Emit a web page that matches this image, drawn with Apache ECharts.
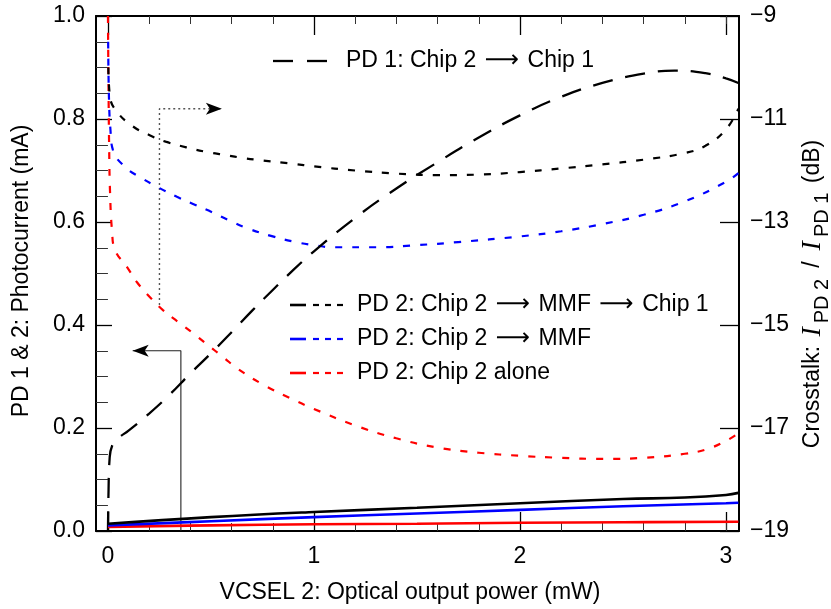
<!DOCTYPE html>
<html><head><meta charset="utf-8">
<script src="https://cdn.jsdelivr.net/npm/echarts@6/dist/echarts.min.js"></script>
<style>html,body{margin:0;padding:0;background:#fff}#c{width:831px;height:609px}</style>
</head><body><div id="c"></div>
<script>
// ---------- axis ticks ----------
const xMajorTicks = [0, 1, 2, 3];
const xMinorTicks = [0.2, 0.4, 0.6, 0.8, 1.2, 1.4, 1.6, 1.8, 2.2, 2.4, 2.6, 2.8, 3.0];
const rightMajorTicks = [-19, -17, -15, -13, -11, -9];
const rightMinorTicks = [-18.5,-18,-17.5,-16.5,-16,-15.5,-14.5,-14,-13.5,-12.5,-12,-11.5,-10.5,-10,-9.5];

// ---------- photocurrent (mA), left axis ----------
const pd1Chip2ToChip1 = [[0,0],[0.003,0.08],[0.008,0.14],[0.02,0.165],[0.05,0.18],[0.1,0.195],[0.2,0.228],[0.3,0.265],[0.4,0.306],[0.5,0.345],[0.6,0.386],[0.7,0.428],[0.8,0.468],[0.9,0.507],[1.0,0.543],[1.2,0.608],[1.4,0.665],[1.6,0.716],[1.8,0.764],[2.0,0.807],[2.2,0.843],[2.4,0.870],[2.6,0.888],[2.75,0.894],[2.9,0.889],[3.0,0.879],[3.06,0.87]];
const pd2MmfChip1 = [[0,0.014],[0.5,0.027],[1.0,0.037],[1.5,0.045],[2.0,0.054],[2.5,0.062],[2.8,0.065],[3.0,0.07],[3.06,0.074]];
const pd2Mmf = [[0,0.011],[0.5,0.019],[1.0,0.027],[1.5,0.034],[2.0,0.041],[2.5,0.048],[3.0,0.054],[3.06,0.055]];
const pd2Alone = [[0,0.008],[0.5,0.011],[1.0,0.013],[1.5,0.014],[2.0,0.016],[2.5,0.017],[3.06,0.018]];

// ---------- crosstalk (dB), right axis ----------
const xtMmfChip1 = [[0.002,-10.0],[0.01,-10.57],[0.044,-10.86],[0.12,-11.14],[0.2,-11.31],[0.28,-11.44],[0.38,-11.55],[0.48,-11.64],[0.57,-11.7],[0.66,-11.76],[0.74,-11.8],[0.9,-11.87],[1.0,-11.92],[1.2,-12.0],[1.4,-12.06],[1.6,-12.09],[1.8,-12.08],[2.0,-12.03],[2.2,-11.96],[2.4,-11.88],[2.6,-11.79],[2.8,-11.66],[2.9,-11.52],[3.0,-11.2],[3.06,-10.8]];
const xtMmf = [[0.001,-9.5],[0.005,-10.6],[0.012,-11.2],[0.024,-11.6],[0.083,-11.93],[0.165,-12.15],[0.24,-12.32],[0.335,-12.51],[0.413,-12.65],[0.505,-12.81],[0.583,-12.96],[0.675,-13.12],[0.8,-13.28],[0.9,-13.38],[1.0,-13.45],[1.1,-13.49],[1.3,-13.49],[1.5,-13.45],[1.7,-13.39],[2.0,-13.28],[2.2,-13.18],[2.4,-13.04],[2.6,-12.86],[2.8,-12.6],[3.0,-12.22],[3.06,-12.05]];
const xtAlone = [[0,-9],[0.003,-10.5],[0.006,-11.6],[0.01,-12.4],[0.02,-13.19],[0.034,-13.54],[0.092,-13.87],[0.141,-14.17],[0.204,-14.46],[0.267,-14.71],[0.34,-14.94],[0.413,-15.16],[0.485,-15.39],[0.558,-15.62],[0.63,-15.85],[0.75,-16.15],[0.9,-16.45],[1.0,-16.63],[1.2,-16.95],[1.4,-17.2],[1.6,-17.38],[1.8,-17.48],[2.0,-17.54],[2.2,-17.58],[2.4,-17.6],[2.6,-17.58],[2.8,-17.5],[2.9,-17.42],[3.0,-17.25],[3.06,-17.1]];

// ---------- annotation arrows ----------
const arrowToRight = [[0.25,-14.61],[0.25,-10.8],[0.553,-10.8]];
const arrowToLeft = [[0.354,0],[0.354,0.35],[0.12,0.35]];

const X_MIN = -0.058, X_MAX = 3.063;
const FONT = 'Liberation Sans';
const chart = echarts.init(document.getElementById('c'), null, {renderer:'canvas'});

const frameLine = {show:true, onZero:false, lineStyle:{color:'#000', width:2}};
const tickStyle = {color:'#000', width:1.3};
const minorStyle = {color:'#333', width:1};

function xAx(pos, custom, len, withLine, withLabel) {
  return {
    type:'value', position:pos, min:X_MIN, max:X_MAX, gridIndex:0,
    axisLine: withLine ? frameLine : {show:false},
    axisTick:{show:true, inside:true, length:len, customValues:custom, lineStyle: len>10?tickStyle:minorStyle},
    axisLabel: withLabel ? {show:true, customValues:custom, fontSize:23, color:'#000', fontFamily:FONT, margin:14} : {show:false},
    splitLine:{show:false}
  };
}
function curve(name, yIdx, data, color, width, dash) {
  return {name, type:'line', yAxisIndex:yIdx, data, showSymbol:false, smooth:0.45,
    lineStyle:{color, width, type:dash || 'solid'}};
}
const legendArrow = {a:{fontFamily:'DejaVu Sans', fontSize:24, padding:[0,2,0,2]}};
const ARW = '\u27F6';

const option = {
  animation:false,
  backgroundColor:'#fff',
  grid:{left:96, right:92, top:16, bottom:78, containLabel:false},
  xAxis:[
    xAx('bottom', xMajorTicks, 19, true, true),
    xAx('bottom', xMinorTicks, 8, false, false),
    xAx('top', xMajorTicks, 19, true, false),
    xAx('top', xMinorTicks, 8, false, false)
  ],
  yAxis:[
    {type:'value', position:'left', min:0, max:1, interval:0.2,
     axisLine:frameLine,
     axisTick:{show:true, inside:true, length:16, lineStyle:tickStyle},
     minorTick:{show:true, splitNumber:4, length:7, lineStyle:minorStyle},
     axisLabel:{fontSize:23, color:'#000', fontFamily:FONT, margin:11, formatter:v=>v.toFixed(1)},
     splitLine:{show:false}, minorSplitLine:{show:false}},
    {type:'value', position:'right', min:-19, max:-9,
     axisLine:frameLine,
     axisTick:{show:true, inside:true, length:19, customValues:rightMajorTicks, lineStyle:tickStyle},
     axisLabel:{fontSize:23, color:'#000', fontFamily:FONT, margin:11, customValues:rightMajorTicks,
       formatter:v=>(v<0?'\u2212':'')+Math.abs(v)},
     splitLine:{show:false}},
    {type:'value', position:'right', min:-19, max:-9,
     axisLine:{show:false},
     axisTick:{show:true, inside:true, length:9, customValues:rightMinorTicks, lineStyle:minorStyle},
     axisLabel:{show:false}, splitLine:{show:false}}
  ],
  series:[
    curve('xtAlone', 1, xtAlone, '#ff0000', 2.2, [7,10]),
    curve('xtMmf', 1, xtMmf, '#0000ff', 2.2, [7,10]),
    curve('xtMmfChip1', 1, xtMmfChip1, '#000', 2.2, [7,10]),
    curve('pd1', 0, pd1Chip2ToChip1, '#000', 2.3, [20,13]),
    curve('pd2Alone', 0, pd2Alone, '#ff0000', 2.6),
    curve('pd2Mmf', 0, pd2Mmf, '#0000ff', 2.6),
    curve('pd2MmfChip1', 0, pd2MmfChip1, '#000', 2.6),
    {name:'arrowRight', type:'line', yAxisIndex:1, symbol:'none', showSymbol:true,
     data: arrowToRight.map((p,i)=> i===arrowToRight.length-1 ? {value:p, symbol:'arrow', symbolSize:[9,16], symbolRotate:-90, itemStyle:{color:'#000'}} : {value:p}),
     lineStyle:{color:'#555', width:1.4, type:[2,3]}, z:1},
    {name:'arrowLeft', type:'line', yAxisIndex:0, symbol:'none', showSymbol:true,
     data: arrowToLeft.map((p,i)=> i===arrowToLeft.length-1 ? {value:p, symbol:'arrow', symbolSize:[9,16], symbolRotate:90, itemStyle:{color:'#000'}} : {value:p}),
     lineStyle:{color:'#222', width:1.1}, z:1}
  ],
  graphic:[
    // axis titles
    {type:'text', x:410, y:593, style:{text:'VCSEL 2: Optical output power (mW)', fontSize:23, fontFamily:FONT, fill:'#000', align:'center', verticalAlign:'middle'}},
    {type:'text', x:22, y:271, rotation:Math.PI/2, style:{text:'PD 1 & 2: Photocurrent (mA)', fontSize:23, fontFamily:FONT, fill:'#000', align:'center', verticalAlign:'middle'}},
    {type:'text', x:813, y:294, rotation:Math.PI/2, style:{
      text:'Crosstalk: {i|I}{s|PD 2}{m|/}{i|I}{s|PD 1} (dB)',
      fontSize:23, fontFamily:FONT, fill:'#000', align:'center', verticalAlign:'middle',
      rich:{
        i:{fontFamily:'Liberation Serif', fontStyle:'italic', fontSize:28, lineHeight:30, verticalAlign:'middle', padding:[0,4,0,3]},
        s:{fontFamily:FONT, fontSize:20, verticalAlign:'bottom', lineHeight:30, padding:[0,3,-4,0]},
        m:{fontFamily:FONT, fontSize:23, padding:[0,8,0,8]}
      }}},
    // legend 1
    {type:'line', shape:{x1:273, y1:61, x2:293, y2:61}, style:{stroke:'#000', lineWidth:2.3}},
    {type:'line', shape:{x1:307, y1:61, x2:327, y2:61}, style:{stroke:'#000', lineWidth:2.3}},
    {type:'text', x:346, y:61, style:{text:'PD 1: Chip 2 {a|'+ARW+'} Chip 1', fontSize:23, fontFamily:FONT, fill:'#000', verticalAlign:'middle', rich:legendArrow}},
    // legend 2
    {type:'line', shape:{x1:290, y1:305, x2:306, y2:305}, style:{stroke:'#000', lineWidth:2.6}},
    {type:'line', shape:{x1:313, y1:305, x2:343, y2:305}, style:{stroke:'#000', lineWidth:2.2, lineDash:[6,6]}},
    {type:'text', x:357, y:305, style:{text:'PD 2: Chip 2 {a|'+ARW+'} MMF {a|'+ARW+'} Chip 1', fontSize:23, fontFamily:FONT, fill:'#000', verticalAlign:'middle', rich:legendArrow}},
    {type:'line', shape:{x1:290, y1:339, x2:306, y2:339}, style:{stroke:'#0000ff', lineWidth:2.6}},
    {type:'line', shape:{x1:313, y1:339, x2:343, y2:339}, style:{stroke:'#0000ff', lineWidth:2.2, lineDash:[6,6]}},
    {type:'text', x:357, y:339, style:{text:'PD 2: Chip 2 {a|'+ARW+'} MMF', fontSize:23, fontFamily:FONT, fill:'#000', verticalAlign:'middle', rich:legendArrow}},
    {type:'line', shape:{x1:290, y1:373, x2:306, y2:373}, style:{stroke:'#ff0000', lineWidth:2.6}},
    {type:'line', shape:{x1:313, y1:373, x2:343, y2:373}, style:{stroke:'#ff0000', lineWidth:2.2, lineDash:[6,6]}},
    {type:'text', x:357, y:373, style:{text:'PD 2: Chip 2 alone', fontSize:23, fontFamily:FONT, fill:'#000', verticalAlign:'middle'}}
  ]
};
chart.setOption(option);
</script></body></html>
